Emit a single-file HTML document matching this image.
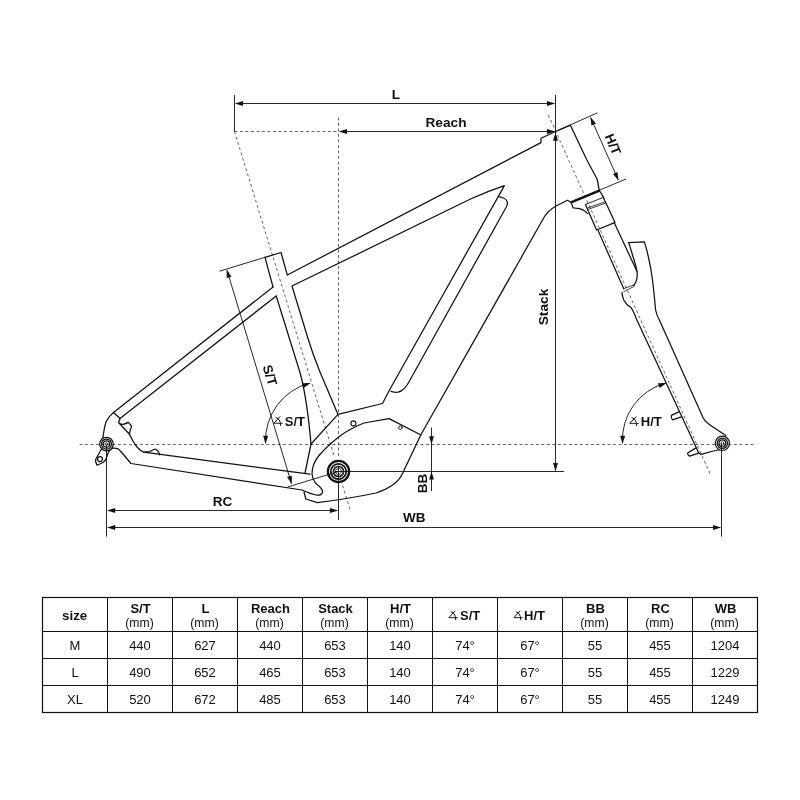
<!DOCTYPE html>
<html><head><meta charset="utf-8"><title>Frame geometry</title>
<style>html,body{margin:0;padding:0;background:#fff}body{width:800px;height:800px;position:relative;overflow:hidden;font-family:"Liberation Sans",sans-serif}</style></head>
<body>
<svg width="800" height="800" viewBox="0 0 800 800" style="position:absolute;left:0;top:0;will-change:transform">
<defs><style>text{font-family:"Liberation Sans",sans-serif;fill:#111}.b{font-weight:bold}.f{fill:none;stroke:#111;stroke-width:1.25;stroke-linejoin:round;stroke-linecap:round}.d{fill:none;stroke:#111;stroke-width:0.9}.dash{fill:none;stroke:#222;stroke-width:0.7;stroke-dasharray:2.9 2.6}.ah{fill:#111;stroke:none}</style></defs>
<g class="dash">
<path d="M234.5,131.5 H338"/>
<path d="M338.5,117.5 V458"/>
<path d="M234.5,131.5 L334.4,457 M342.6,485.5 L350.6,511.5"/>
<path d="M79.5,444.5 H755.5"/>
<path d="M548.4,115 L710.2,474"/>
</g>
<g class="d">
<path d="M234.5,95 V131.5"/>
<path d="M555.5,95 V470.8"/>
<path d="M236,103.5 H554"/>
<path d="M340,131.5 H554"/>
<path d="M555.5,131.5 L597.5,112.8"/>
<path d="M570,202.5 L626,179"/>
<path d="M590.7,117.6 L618.3,180"/>
<path d="M219.5,271.2 L265,257.3"/>
<path d="M227.1,270.6 L291.5,483.5"/>
<path d="M287.5,487 L338.5,471.5"/>
<path d="M334.5,471.5 H564"/>
<path d="M338.5,466.5 V520"/>
<path d="M106.5,444.5 V536.5"/>
<path d="M721.5,443.5 V536.5"/>
<path d="M108,510.5 H336"/>
<path d="M108,527.5 H720"/>
<path d="M431.5,427.5 V444"/><path d="M431.5,444 V491"/>
<path d="M309.5,383.1 A59.7,59.7 0 0 0 265.5,443"/>
<path d="M665.3,383.2 A58.6,58.6 0 0 0 622.5,443"/>
</g>
<path class="ah" transform="translate(234.8,103.5) rotate(180)" d="M0,0 L-8.2,-2.5 L-8.2,2.5 Z"/>
<path class="ah" transform="translate(555.2,103.5) rotate(0)" d="M0,0 L-8.2,-2.5 L-8.2,2.5 Z"/>
<path class="ah" transform="translate(338.8,131.5) rotate(180)" d="M0,0 L-8.2,-2.5 L-8.2,2.5 Z"/>
<path class="ah" transform="translate(555.2,131.5) rotate(0)" d="M0,0 L-8.2,-2.5 L-8.2,2.5 Z"/>
<path class="ah" transform="translate(555.5,132.5) rotate(-90)" d="M0,0 L-8.2,-2.5 L-8.2,2.5 Z"/>
<path class="ah" transform="translate(555.5,471.2) rotate(90)" d="M0,0 L-8.2,-2.5 L-8.2,2.5 Z"/>
<path class="ah" transform="translate(590.4,116.9) rotate(-113.9)" d="M0,0 L-8.2,-2.5 L-8.2,2.5 Z"/>
<path class="ah" transform="translate(618.5,180.4) rotate(66.1)" d="M0,0 L-8.2,-2.5 L-8.2,2.5 Z"/>
<path class="ah" transform="translate(226.7,269.5) rotate(-106.8)" d="M0,0 L-8.2,-2.5 L-8.2,2.5 Z"/>
<path class="ah" transform="translate(291.8,484.2) rotate(73.4)" d="M0,0 L-8.2,-2.5 L-8.2,2.5 Z"/>
<path class="ah" transform="translate(107,510.5) rotate(180)" d="M0,0 L-8.2,-2.5 L-8.2,2.5 Z"/>
<path class="ah" transform="translate(338.2,510.5) rotate(0)" d="M0,0 L-8.2,-2.5 L-8.2,2.5 Z"/>
<path class="ah" transform="translate(107,527.5) rotate(180)" d="M0,0 L-8.2,-2.5 L-8.2,2.5 Z"/>
<path class="ah" transform="translate(721.2,527.5) rotate(0)" d="M0,0 L-8.2,-2.5 L-8.2,2.5 Z"/>
<path class="ah" transform="translate(431.5,444.3) rotate(90)" d="M0,0 L-8,-2.4 L-8,2.4 Z"/>
<path class="ah" transform="translate(431.5,471.6) rotate(-90)" d="M0,0 L-8,-2.4 L-8,2.4 Z"/>
<path class="ah" transform="translate(310.6,382.9) rotate(-19)" d="M0,0 L-8.2,-2.5 L-8.2,2.5 Z"/>
<path class="ah" transform="translate(265.5,444) rotate(91)" d="M0,0 L-8.2,-2.5 L-8.2,2.5 Z"/>
<path class="ah" transform="translate(666.6,382.9) rotate(-19)" d="M0,0 L-8.2,-2.5 L-8.2,2.5 Z"/>
<path class="ah" transform="translate(622.5,444) rotate(91)" d="M0,0 L-8.2,-2.5 L-8.2,2.5 Z"/>
<g class="f">
<path d="M265,257.3 L281,252.5 L287.3,275 L541,142.6 L541,138.2 L555.5,131.5 L570.5,125.2"/>
<path d="M570.5,125.6 L586.9,160 L596.9,178.75 Q598,182 598.2,185 L599.4,190.6"/>
<path d="M265,257.3 L273,287 M276.2,296 L300,372.5 Q307,398 311,444 L305,473"/>
<path d="M273,287 L113.5,412.5"/><path d="M276.2,296 L120,418.5"/>
<path d="M292,286 L470,199.3 Q488,191 504.4,185.6 L389.5,390 L382.5,403.5 L338,414.4 L320,372 Q313,355 307.5,337 Z"/>
<path d="M498.2,196.3 L503.5,198 Q509.5,200.5 506.3,207 L410,380 Q404.5,391 398,392.2 Q395,392.6 391,391.4"/>
<path d="M338,414.4 L311,444"/>
<path d="M570.4,202 L567.5,200.2 L556,206 Q547,211 542.5,220 L421,434.5 L402.5,473.5 Q397,486 376,493 Q350,498.5 317.5,502.6 L305.8,499 L304,492"/>
<path d="M421,435 L389,418.6 L364,423 Q350,428.5 340,436 Q327,446 319,455.5 Q312,464 312,474 Q313,481 317,484.5 Q322.5,488.5 322.6,492 Q321.5,496 316,495 Q309,493.5 302,490 L131,463.5 L123,454 L118.3,448.8 Q115,447.8 112.5,448.2"/>
<path d="M102,448.2 L97.5,456 Q95.3,459 95.6,461.5 L97,465.2 L103,462.5 Q105.5,461 106.2,458.5 L108.5,452 Q110,449.5 112.5,448.2"/>
<path d="M310,474.2 L143.5,452.2"/>
<path d="M113.5,412.5 Q108.5,416.5 106,422 Q104.3,427 103.6,433 L102.8,438"/>
<path d="M113.5,412.5 L120,418.5"/>
<path d="M120,418.5 L118.5,422.5 Q120.5,424.6 123,424.3 Q126,423.8 128.3,422.4 Q130.5,424 131.6,426.5 Q130.3,429 130,431 L129.5,434.3 L118.5,422.5"/>
<path d="M129.5,434.3 Q132.5,441.5 137,447 Q140.5,450.8 143.5,452 L150,451.6 Q153,449.6 155,449 Q157.5,450 158.6,452 L159.6,454.8"/>
<circle cx="100" cy="459" r="2.5"/>
<circle cx="106.5" cy="444.1" r="6.8"/><circle cx="106.5" cy="444.1" r="5"/><circle cx="106.5" cy="444.1" r="3.2"/><circle cx="106.5" cy="444.1" r="1.3" style="stroke-width:.8"/>
<circle cx="338.5" cy="471.5" r="10.6" style="stroke-width:2.3"/><circle cx="338.5" cy="471.5" r="7.7" style="stroke-width:1.7"/><circle cx="338.5" cy="471.5" r="5.1" style="stroke-width:1.5"/><circle cx="338.5" cy="471.5" r="3.1" style="stroke-width:.8"/>
<circle cx="353.4" cy="423.4" r="2.5" style="stroke-width:1.1"/><circle cx="400.4" cy="427.6" r="1.7" style="stroke-width:1"/>
<path d="M571,202.3 L599.4,190.6" style="stroke-width:2.5;stroke-linecap:butt"/>
<path d="M599.4,190.6 Q602.5,194.5 605,201 L615,222.4"/>
<path d="M571.2,202.6 L573.2,208 L576,208.2 Q583,208.5 587.6,213.6"/>
<path d="M585.8,204.3 L603.8,197.2" style="stroke-width:.9"/>
<path d="M587.4,208 L605,201.8 M587.8,209.5 L605.4,203.2" style="stroke-width:.8"/>
<path d="M585.6,204.4 Q586,207 587.6,209.5 L596.6,230 L614.6,222.6"/>
<path d="M598.1,230.6 L623.75,288.75 M614.4,223.1 L636.9,271.25"/>
<path d="M623.2,288.8 L633.8,285 M623.8,291.6 L634.4,286.3" style="stroke-width:.8"/>
<path d="M628.75,242.6 L644.4,241.9 Q647,250 648.75,258.75 Q651,268 652.5,280 Q653.7,290 654.4,297.5 L655.6,310 Q656.5,315 659.4,320 L703.2,418 Q705.2,422 710,425 L725.8,435.6"/>
<path d="M628.75,242.6 L632.5,255 L635.6,265 L636.9,271.25 Q637.8,276 636.25,281 Q635,284 633.75,285.4"/>
<path d="M621.9,292.5 Q622.5,297 623.75,300 Q625.5,303 627.5,305 Q630,306.8 631.25,307.8 Q633,310 636.9,320 L698.75,453.1 L701.25,454.4 L712.5,451.25 Q716,450.2 719,450"/>
<path d="M678.75,411.9 L671.4,415.4 Q670.8,418 672.6,419.9 L681.25,416.9"/>
<path d="M695.6,448.1 L687.6,453 Q687.6,455 689.5,456.2 L698.75,453.1"/>
<circle cx="722.4" cy="443.3" r="7.1"/><circle cx="722.4" cy="443.3" r="5.2"/><circle cx="722.4" cy="443.3" r="3.4"/><circle cx="722.4" cy="443.3" r="1.5" style="stroke-width:.8"/>
</g>
<text class="b" x="396" y="98.5" font-size="13.7" text-anchor="middle">L</text>
<text class="b" x="446" y="127" font-size="13.7" text-anchor="middle">Reach</text>
<text class="b" x="222.5" y="505.8" font-size="13.5" text-anchor="middle">RC</text>
<text class="b" x="414.3" y="522.3" font-size="13.5" text-anchor="middle">WB</text>
<text class="b" transform="translate(548,307) rotate(-90)" font-size="13.7" text-anchor="middle">Stack</text>
<text class="b" transform="translate(426.9,483.5) rotate(-90)" font-size="13.5" text-anchor="middle">BB</text>
<text class="b" transform="translate(608.7,146.2) rotate(66.5)" font-size="13.33" text-anchor="middle">H/T</text>
<text class="b" transform="translate(265.5,376.5) rotate(73.4)" font-size="13.33" text-anchor="middle">S/T</text>
<g transform="translate(273.75,425.6) scale(1.0)" fill="none" stroke="#111" stroke-width="1"><path d="M6.4,-9.2 L0,-2.3"/><path d="M0,-2.3 H8.9" stroke="#444" stroke-width="1.2"/><path d="M1.8,-8.3 Q5.6,-7.2 6.4,-3.5 L6.9,0.2"/></g>
<text class="b" x="284.8" y="425.6" font-size="13">S/T</text>
<g transform="translate(629.8,425.8) scale(1.0)" fill="none" stroke="#111" stroke-width="1"><path d="M6.4,-9.2 L0,-2.3"/><path d="M0,-2.3 H8.9" stroke="#444" stroke-width="1.2"/><path d="M1.8,-8.3 Q5.6,-7.2 6.4,-3.5 L6.9,0.2"/></g>
<text class="b" x="640.8" y="425.8" font-size="13">H/T</text>
<g fill="none" stroke="#111" stroke-width="1">
<rect x="42.5" y="597.5" width="715" height="115.0" style="stroke-width:1.2"/>
<path d="M42.5,631.5 H757.5"/>
<path d="M42.5,658.5 H757.5"/>
<path d="M42.5,685.5 H757.5"/>
<path d="M107.5,597.5 V712.5"/>
<path d="M172.5,597.5 V712.5"/>
<path d="M237.5,597.5 V712.5"/>
<path d="M302.5,597.5 V712.5"/>
<path d="M367.5,597.5 V712.5"/>
<path d="M432.5,597.5 V712.5"/>
<path d="M497.5,597.5 V712.5"/>
<path d="M562.5,597.5 V712.5"/>
<path d="M627.5,597.5 V712.5"/>
<path d="M692.5,597.5 V712.5"/>
</g>
<text class="b" x="74.7" y="619.5" font-size="13.33" text-anchor="middle">size</text>
<text class="b" x="140.5" y="612.6" font-size="13" text-anchor="middle">S/T</text>
<text x="139.5" y="627" font-size="12.2" text-anchor="middle">(mm)</text>
<text class="b" x="205.5" y="612.6" font-size="13" text-anchor="middle">L</text>
<text x="204.5" y="627" font-size="12.2" text-anchor="middle">(mm)</text>
<text class="b" x="270.5" y="612.6" font-size="13" text-anchor="middle">Reach</text>
<text x="269.5" y="627" font-size="12.2" text-anchor="middle">(mm)</text>
<text class="b" x="335.5" y="612.6" font-size="13" text-anchor="middle">Stack</text>
<text x="334.5" y="627" font-size="12.2" text-anchor="middle">(mm)</text>
<text class="b" x="400.5" y="612.6" font-size="13" text-anchor="middle">H/T</text>
<text x="399.5" y="627" font-size="12.2" text-anchor="middle">(mm)</text>
<g transform="translate(448.9,619.9) scale(1.0)" fill="none" stroke="#111" stroke-width="1"><path d="M6.4,-9.2 L0,-2.3"/><path d="M0,-2.3 H8.9" stroke="#444" stroke-width="1.2"/><path d="M1.8,-8.3 Q5.6,-7.2 6.4,-3.5 L6.9,0.2"/></g>
<text class="b" x="460.0" y="619.9" font-size="13">S/T</text>
<g transform="translate(513.9,619.9) scale(1.0)" fill="none" stroke="#111" stroke-width="1"><path d="M6.4,-9.2 L0,-2.3"/><path d="M0,-2.3 H8.9" stroke="#444" stroke-width="1.2"/><path d="M1.8,-8.3 Q5.6,-7.2 6.4,-3.5 L6.9,0.2"/></g>
<text class="b" x="524.1" y="619.9" font-size="13">H/T</text>
<text class="b" x="595.5" y="612.6" font-size="13" text-anchor="middle">BB</text>
<text x="594.5" y="627" font-size="12.2" text-anchor="middle">(mm)</text>
<text class="b" x="660.5" y="612.6" font-size="13" text-anchor="middle">RC</text>
<text x="659.5" y="627" font-size="12.2" text-anchor="middle">(mm)</text>
<text class="b" x="725.5" y="612.6" font-size="13" text-anchor="middle">WB</text>
<text x="724.5" y="627" font-size="12.2" text-anchor="middle">(mm)</text>
<text x="75.0" y="649.9" font-size="13" text-anchor="middle">M</text>
<text x="140.0" y="649.9" font-size="13" text-anchor="middle">440</text>
<text x="205.0" y="649.9" font-size="13" text-anchor="middle">627</text>
<text x="270.0" y="649.9" font-size="13" text-anchor="middle">440</text>
<text x="335.0" y="649.9" font-size="13" text-anchor="middle">653</text>
<text x="400.0" y="649.9" font-size="13" text-anchor="middle">140</text>
<text x="465.0" y="649.9" font-size="13" text-anchor="middle">74°</text>
<text x="530.0" y="649.9" font-size="13" text-anchor="middle">67°</text>
<text x="595.0" y="649.9" font-size="13" text-anchor="middle">55</text>
<text x="660.0" y="649.9" font-size="13" text-anchor="middle">455</text>
<text x="725.0" y="649.9" font-size="13" text-anchor="middle">1204</text>
<text x="75.0" y="676.9" font-size="13" text-anchor="middle">L</text>
<text x="140.0" y="676.9" font-size="13" text-anchor="middle">490</text>
<text x="205.0" y="676.9" font-size="13" text-anchor="middle">652</text>
<text x="270.0" y="676.9" font-size="13" text-anchor="middle">465</text>
<text x="335.0" y="676.9" font-size="13" text-anchor="middle">653</text>
<text x="400.0" y="676.9" font-size="13" text-anchor="middle">140</text>
<text x="465.0" y="676.9" font-size="13" text-anchor="middle">74°</text>
<text x="530.0" y="676.9" font-size="13" text-anchor="middle">67°</text>
<text x="595.0" y="676.9" font-size="13" text-anchor="middle">55</text>
<text x="660.0" y="676.9" font-size="13" text-anchor="middle">455</text>
<text x="725.0" y="676.9" font-size="13" text-anchor="middle">1229</text>
<text x="75.0" y="703.9" font-size="13" text-anchor="middle">XL</text>
<text x="140.0" y="703.9" font-size="13" text-anchor="middle">520</text>
<text x="205.0" y="703.9" font-size="13" text-anchor="middle">672</text>
<text x="270.0" y="703.9" font-size="13" text-anchor="middle">485</text>
<text x="335.0" y="703.9" font-size="13" text-anchor="middle">653</text>
<text x="400.0" y="703.9" font-size="13" text-anchor="middle">140</text>
<text x="465.0" y="703.9" font-size="13" text-anchor="middle">74°</text>
<text x="530.0" y="703.9" font-size="13" text-anchor="middle">67°</text>
<text x="595.0" y="703.9" font-size="13" text-anchor="middle">55</text>
<text x="660.0" y="703.9" font-size="13" text-anchor="middle">455</text>
<text x="725.0" y="703.9" font-size="13" text-anchor="middle">1249</text>
</svg>
</body></html>
